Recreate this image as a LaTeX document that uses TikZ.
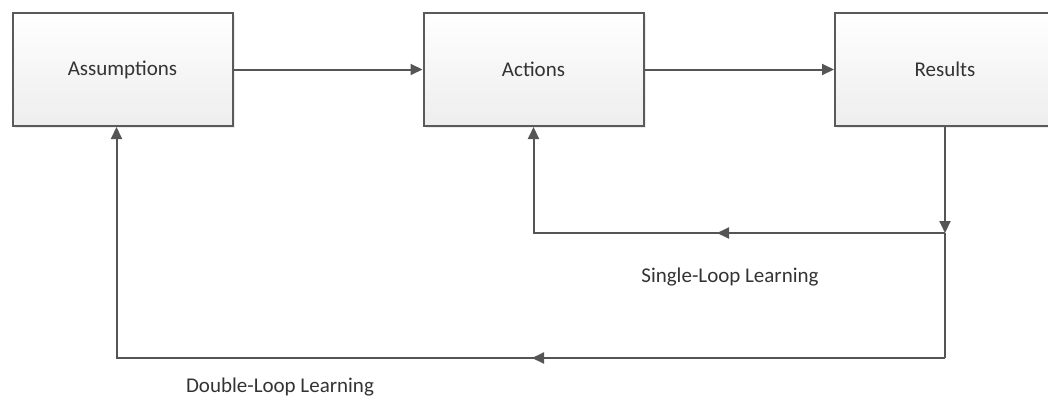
\documentclass[tikz,border=0pt]{standalone}
\usepackage{fontspec}
\setmainfont{Carlito}
\usetikzlibrary{arrows.meta,shadows,calc}
\definecolor{boxline}{HTML}{5A5A5A}
\definecolor{linegray}{HTML}{555555}
\definecolor{textgray}{HTML}{333333}
\begin{document}
\begin{tikzpicture}[x=1pt,y=-1pt,
    box/.style={draw=boxline, line width=2pt, top color=white, bottom color=gray!14,
      minimum width=220pt, minimum height=113pt, text=textgray,
      font=\fontsize{21}{25}\selectfont,
      drop shadow={shadow xshift=2pt, shadow yshift=-2pt, opacity=0.15}},
    link/.style={draw=linegray, line width=2pt},
    flow/.style={link, -{Triangle[length=12pt,width=11pt]}},
    lbl/.style={text=textgray, font=\fontsize{21}{25}\selectfont}]

    % Fix the size of the page
    \useasboundingbox (0,0) rectangle (1048,399);

    % The three boxes in a row
    \node[box] (Assumptions) at (122.5,69.5) {Assumptions};
    \node[box] (Actions) at (533.5,69.5) {Actions};
    \node[box] (Results) at (945,69.5) {Results};

    % Forward arrows
    \draw[flow] (Assumptions.east) -- (Actions.west);
    \draw[flow] (Actions.east) -- (Results.west);

    % Corners of the two loops under Results
    \coordinate (single) at (945,233);
    \coordinate (double) at (945,358);

    % Points where the arrow tips sit on the long lines
    \coordinate (singlemid) at (717,233);
    \coordinate (doublemid) at (532,358);

    % Single loop back to Actions
    \draw[flow] (Results.south) -- (single);
    \draw[flow] (single) -| (Actions.south);
    \draw[flow] (single) -- (singlemid);

    % Double loop back to Assumptions
    \draw[link] (single) -- (double);
    \draw[flow] (double) -| ($(Assumptions.south)+(-6,0)$);
    \draw[flow] (double) -- (doublemid);

    % Labels of the loops
    \node[lbl] (singlelabel) at (730,277) {Single-Loop Learning};
    \node[lbl] (doublelabel) at (280,387) {Double-Loop Learning};

\end{tikzpicture}
\end{document}
